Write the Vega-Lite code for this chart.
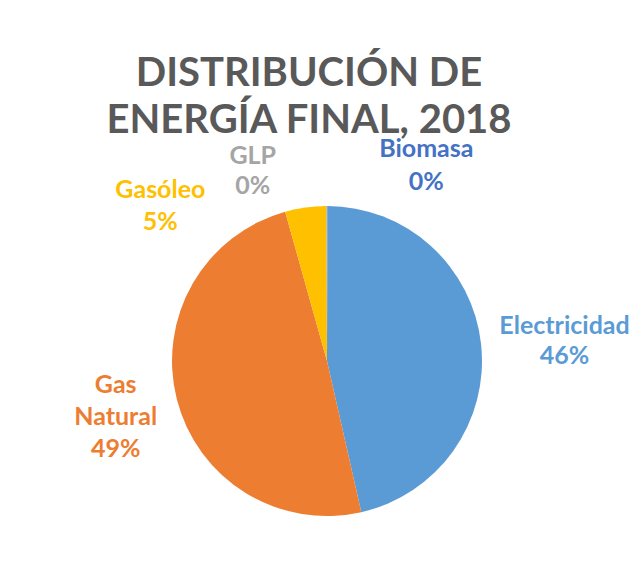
{
  "$schema": "https://vega.github.io/schema/vega-lite/v6.json",
  "autosize": "none",
  "width": 310,
  "height": 310,
  "padding": {"left": 172, "top": 206, "right": 158, "bottom": 52},
  "background": "white",
  "config": {"view": {"stroke": null}},
  "title": {
    "text": ["DISTRIBUCIÓN DE", "ENERGÍA FINAL, 2018"],
    "font": "Lato",
    "fontSize": 40,
    "fontWeight": "bold",
    "color": "#595959",
    "anchor": "middle",
    "lineHeight": 47,
    "offset": 60,
    "dx": -18,
    "dy": 100
  },
  "data": {
    "values": [
      {"cat": "Biomasa", "valor": 0.05, "orden": 1, "label": ["Biomasa", "0%"]},
      {"cat": "Electricidad", "valor": 46.4, "orden": 2, "label": ["Electricidad", "46%"]},
      {"cat": "Gas Natural", "valor": 49.2, "orden": 3, "label": ["Gas", "Natural", "49%"]},
      {"cat": "Gasóleo", "valor": 4.3, "orden": 4, "label": ["Gasóleo", "5%"]},
      {"cat": "GLP", "valor": 0.05, "orden": 5, "label": ["GLP", "0%"]}
    ]
  },
  "encoding": {
    "theta": {"field": "valor", "type": "quantitative", "stack": true},
    "order": {"field": "orden", "type": "quantitative"}
  },
  "layer": [
    {
      "mark": {"type": "arc"},
      "encoding": {
        "color": {
          "field": "cat",
          "type": "nominal",
          "scale": {
            "domain": ["Biomasa", "Electricidad", "Gas Natural", "Gasóleo", "GLP"],
            "range": ["#4472C4", "#5B9BD5", "#ED7D31", "#FFC000", "#A5A5A5"]
          },
          "legend": null
        }
      }
    },
    {
      "mark": {"type": "text", "radius": 196, "dx": 99, "dy": -16, "font": "Lato", "fontWeight": "bold", "fontSize": 25, "lineHeight": 33, "align": "center", "baseline": "middle", "color": "#4472C4"},
      "encoding": {
        "text": {"condition": {"test": "datum.cat === 'Biomasa'", "field": "label", "type": "nominal"}, "value": ""}
      }
    },
    {
      "mark": {"type": "text", "radius": 191, "dx": -74, "dy": -14, "font": "Lato", "fontWeight": "bold", "fontSize": 25, "lineHeight": 30, "align": "center", "baseline": "middle", "color": "#A5A5A5"},
      "encoding": {
        "text": {"condition": {"test": "datum.cat === 'GLP'", "field": "label", "type": "nominal"}, "value": ""}
      }
    },
    {
      "mark": {"type": "text", "radius": 157, "dx": -145, "dy": -15, "font": "Lato", "fontWeight": "bold", "fontSize": 25, "lineHeight": 32, "align": "center", "baseline": "middle", "color": "#FFC000"},
      "encoding": {
        "text": {"condition": {"test": "datum.cat === 'Gasóleo'", "field": "label", "type": "nominal"}, "value": ""}
      }
    },
    {
      "mark": {"type": "text", "radius": 218, "dy": -30, "font": "Lato", "fontWeight": "bold", "fontSize": 25, "lineHeight": 32, "align": "center", "baseline": "middle", "color": "#ED7D31"},
      "encoding": {
        "text": {"condition": {"test": "datum.cat === 'Gas Natural'", "field": "label", "type": "nominal"}, "value": ""}
      }
    },
    {
      "mark": {"type": "text", "radius": 239, "dy": -9, "font": "Lato", "fontWeight": "bold", "fontSize": 25, "lineHeight": 30, "align": "center", "baseline": "middle", "color": "#5B9BD5"},
      "encoding": {
        "text": {"condition": {"test": "datum.cat === 'Electricidad'", "field": "label", "type": "nominal"}, "value": ""}
      }
    }
  ]
}
